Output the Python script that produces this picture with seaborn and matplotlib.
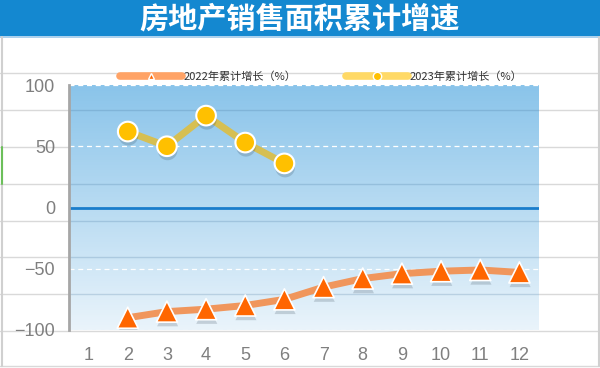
import numpy as np
import matplotlib
matplotlib.use("Agg")
import matplotlib.pyplot as plt
import matplotlib.patheffects as pe
import seaborn as sns
from matplotlib.lines import Line2D
from matplotlib.patches import Rectangle
from matplotlib.colors import LinearSegmentedColormap

# datos
months = list(range(1, 13))
month_labels = [str(m) for m in months]
months_2022 = [2, 3, 4, 5, 6, 7, 8, 9, 10, 11, 12]
growth_2022 = [-90, -85, -83, -80, -75, -65, -58, -54, -52, -51, -53]
months_2023 = [2, 3, 4, 5, 6]
growth_2023 = [62, 50, 75, 53, 36]
y_ticks = [-100, -50, 0, 50, 100]
dashed_levels = [-100, -50, 50, 100]
title = "房地产销售面积累计增速"
label_2022 = "2022年累计增长（%）"
label_2023 = "2023年累计增长（%）"

sns.set_theme(style="white")
plt.rcParams["font.family"] = ["Noto Sans CJK SC", "DejaVu Sans"]

W, H = 600, 368
fig = plt.figure(figsize=(W / 100, H / 100), dpi=100)
fig.patch.set_facecolor("white")


def fy(px):
    return 1 - px / H


# barra del titulo
fig.add_artist(Rectangle((0, fy(36)), 1, 36 / H, transform=fig.transFigure,
                         facecolor="#1488D0", edgecolor="none", zorder=-3))
fig.add_artist(Line2D([0, 1], [fy(37)] * 2, transform=fig.transFigure,
                      color="#9CC8EA", lw=1.2, zorder=-2))
fig.text(0.5, fy(19), title, color="white", fontsize=21, fontweight="bold",
         ha="center", va="center")

# rejilla de la hoja de calculo
sheet_rows = [73, 110, 147, 184, 221, 257, 294, 331, 366]
for y in sheet_rows:
    fig.add_artist(Line2D([0, 1], [fy(y)] * 2, transform=fig.transFigure,
                          color="#D9D9D9", lw=1, zorder=-2))
for x in [1.5, 598.5]:
    fig.add_artist(Line2D([x / W] * 2, [fy(37), fy(366)], transform=fig.transFigure,
                          color="#D0D0D0", lw=1.5, zorder=-2))
fig.add_artist(Line2D([1.5 / W] * 2, [fy(147), fy(184)], transform=fig.transFigure,
                      color="#6CBF5A", lw=1.5, zorder=-1))

ax = fig.add_axes([69 / W, fy(330), 470 / W, (330 - 85) / H])

# fondo degradado
cmap = LinearSegmentedColormap.from_list("bg", ["#EAF4FB", "#B8DBF2", "#8AC4EA"])
grad = np.linspace(0, 1, 256).reshape(-1, 1)
ax.imshow(grad, extent=[0.5, 12.5, -100, 100], origin="lower", aspect="auto",
          cmap=cmap, zorder=0)

for y in [110, 184, 221, 257, 294]:
    ax.plot([0, 1], [fy(y)] * 2, transform=fig.transFigure, color="#3D6E96",
            alpha=0.22, lw=1, zorder=1)

for lvl in dashed_levels:
    ax.axhline(lvl, color="white", ls=(0, (4, 3)), lw=0.9, zorder=1)
ax.axhline(0, color="#1A7DCB", lw=2, zorder=2)

shadow = [pe.SimplePatchShadow(offset=(0.5, -3), shadow_rgbFace="#1E2E3E", alpha=0.18),
          pe.Normal()]

sns.lineplot(x=months_2022, y=growth_2022, color="#F0965C", lw=5, ax=ax, zorder=3)
sns.scatterplot(x=months_2022, y=growth_2022, marker="^", s=230, color="#FF6600",
                edgecolor="white", linewidth=1.2, ax=ax, zorder=4)
ax.collections[-1].set_path_effects(shadow)

sns.lineplot(x=months_2023, y=growth_2023, color="#D6BF52", lw=5, ax=ax, zorder=3)
sns.scatterplot(x=months_2023, y=growth_2023, marker="o", s=200, color="#FFC000",
                edgecolor="white", linewidth=1.5, ax=ax, zorder=4)
ax.collections[-1].set_path_effects(shadow)

ax.set_xlim(0.5, 12.5)
ax.set_ylim(-100, 100)
ax.set_yticks(y_ticks)
ax.set_xticks(months, month_labels)
ax.set_xlabel("")
ax.set_ylabel("")
ax.grid(False)
ax.tick_params(axis="both", length=0, labelsize=13, labelcolor="#7F7F7F")
ax.tick_params(axis="y", pad=10)
ax.tick_params(axis="x", pad=12)
for lab in ax.get_xticklabels() + ax.get_yticklabels():
    lab.set_fontfamily("Liberation Sans")

for side in ["top", "right", "bottom"]:
    ax.spines[side].set_visible(False)
ax.spines["left"].set_color("#A6A6A6")
ax.spines["left"].set_linewidth(2)

handles = [
    Line2D([], [], color="#FFA366", lw=5.5, solid_capstyle="round", marker="^",
           markersize=5, markerfacecolor="#FF6600", markeredgecolor="white"),
    Line2D([], [], color="#FFD966", lw=5.5, solid_capstyle="round", marker="o",
           markersize=6, markerfacecolor="#FFC000", markeredgecolor="white"),
]
fig.legend(handles, [label_2022, label_2023], ncol=2, loc="center",
           bbox_to_anchor=(0.535, fy(77)), frameon=False, fontsize=8,
           handlelength=5.6, handletextpad=0.1, columnspacing=4.5,
           labelcolor="#333333")

fig.savefig("out.png", dpi=100)
